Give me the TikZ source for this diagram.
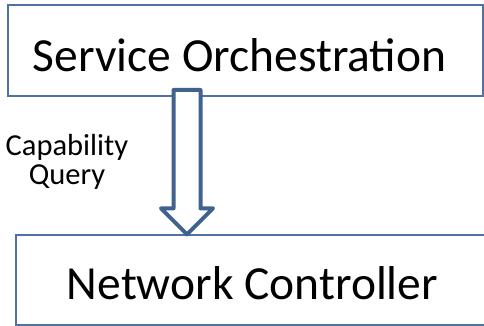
\documentclass[tikz,border=0pt]{standalone}
\usepackage{fontspec}
\setmainfont{Carlito}
\definecolor{boxline}{HTML}{4F71A3}
\definecolor{arrowblue}{HTML}{41628F}
\begin{document}
\begin{tikzpicture}[x=1pt,y=1pt,
  block/.style={draw=boxline, line width=1.2pt, inner sep=0pt, fill=white},
  bigtext/.style={font=\fontsize{47.5}{57}\selectfont, anchor=base, inner sep=0pt},
  smalltext/.style={font=\fontsize{30.5}{30.5}\selectfont, align=center, inner sep=0pt},
  hollowarrow/.style={draw=arrowblue, line width=4pt, line join=round, fill=white}]
\useasboundingbox (0,0) rectangle (484,326);
% boxes
\node[block, minimum width=475pt, minimum height=91pt] (orch) at (245.5,275.5) {};
\node[block, minimum width=469pt, minimum height=90pt] (ctrl) at (250.5,46) {};
% labels
\node[bigtext] (orchtext) at (239.5,254) {Service Orchestration};
\node[bigtext] (ctrltext) at (252.5,26) {Network Controller};
% hollow block arrow from the orchestrator down to the controller
\coordinate (tail) at (187,236);
\coordinate (tip) at (ctrl.north -| tail);
\draw[hollowarrow] ([xshift=-13.5pt]tail) -- ([xshift=13.5pt]tail)
  -- ([xshift=13.5pt,yshift=26pt]tip) -- ([xshift=26pt,yshift=26pt]tip)
  -- (tip) -- ([xshift=-26pt,yshift=26pt]tip)
  -- ([xshift=-13.5pt,yshift=26pt]tip) -- cycle;
\node[smalltext] (query) at (67,164) {Capability\\[-1pt]Query};
\end{tikzpicture}
\end{document}
